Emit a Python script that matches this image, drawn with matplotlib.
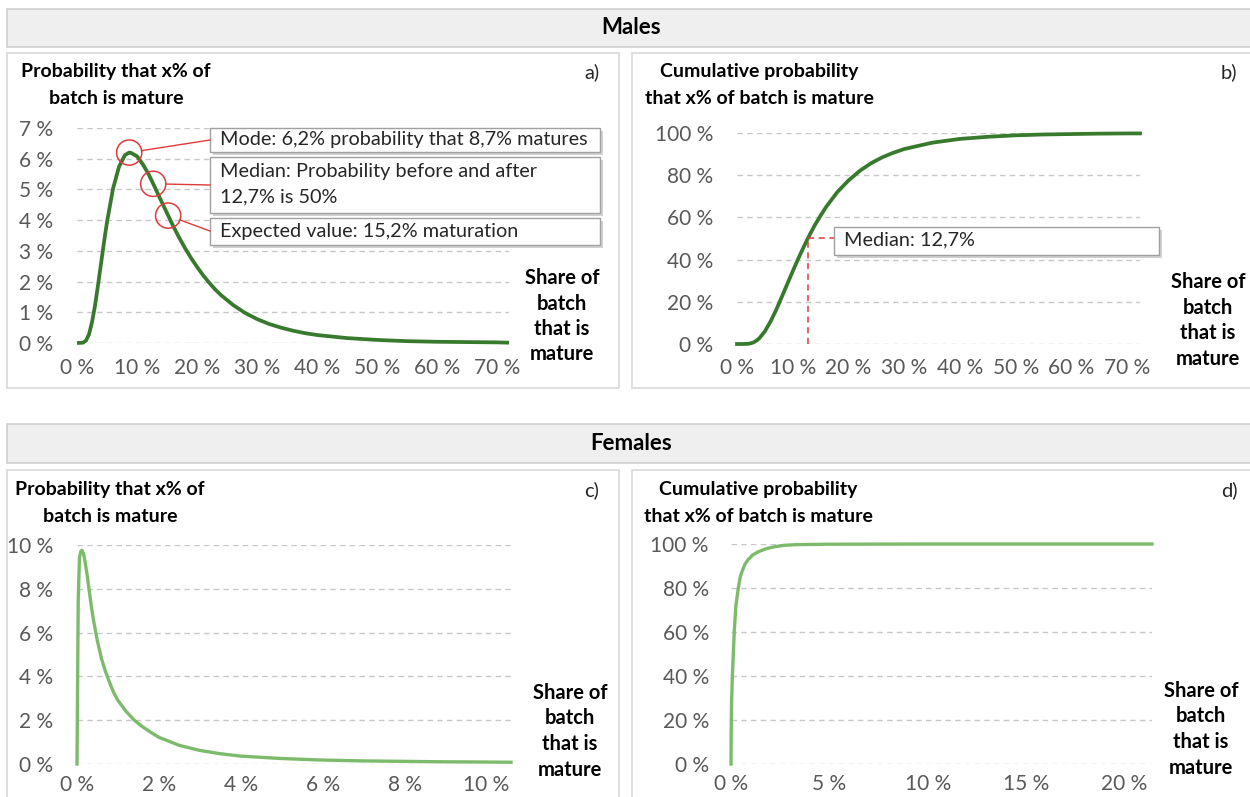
import numpy as np
import matplotlib.pyplot as plt
from matplotlib.patches import Rectangle
from matplotlib.lines import Line2D
from matplotlib.ticker import FuncFormatter

plt.rcParams['font.family'] = ['Lato', 'DejaVu Sans']

# share of batch that is mature (%), males
male_share = [0, 1, 1.5, 2, 2.5, 3, 3.5, 4, 4.5, 5, 6, 7, 8, 8.7, 9, 10, 11, 12, 13, 14, 15, 16, 17,
              18, 19, 20, 21, 22, 23, 24, 25, 26, 27, 28, 29, 30, 32, 34, 36, 38, 40, 45, 50, 55,
              60, 65, 70, 72]
male_prob = [0, 0.01, 0.08, 0.28, 0.68, 1.21, 1.88, 2.58, 3.28, 3.94, 5.02, 5.74, 6.12, 6.20, 6.19,
             6.08, 5.81, 5.47, 5.06, 4.64, 4.23, 3.82, 3.44, 3.09, 2.77, 2.48, 2.21, 1.97, 1.75,
             1.56, 1.40, 1.24, 1.11, 0.98, 0.88, 0.78, 0.62, 0.50, 0.40, 0.32, 0.26, 0.16, 0.10,
             0.06, 0.04, 0.03, 0.02, 0.01]
male_cum_share = [0, 1, 2, 2.5, 3, 3.5, 4, 5, 6, 7, 8, 9, 10, 11, 12, 12.7, 13, 14, 15, 16, 18, 20,
                  22, 24, 26, 28, 30, 35, 40, 45, 50, 55, 60, 65, 70, 72.3]
male_cum_prob = [0, 0.0, 0.1, 0.35, 0.8, 1.6, 2.7, 6.0, 10.6, 16.0, 22.1, 28.3, 34.5, 40.5, 46.2,
                 50.0, 51.6, 56.5, 60.9, 65.0, 72.0, 77.5, 82.0, 85.6, 88.4, 90.6, 92.4, 95.4, 97.2,
                 98.2, 98.9, 99.3, 99.5, 99.7, 99.8, 99.8]

# females
female_share = [0, 0.03, 0.06, 0.09, 0.12, 0.16, 0.2, 0.25, 0.3, 0.35, 0.4, 0.45, 0.5, 0.6, 0.7,
                0.8, 0.9, 1.0, 1.2, 1.4, 1.6, 1.8, 2.0, 2.5, 3.0, 3.5, 4.0, 5.0, 6.0, 7.0, 8.0,
                9.0, 10.0, 10.6]
female_prob = [0, 7.5, 9.4, 9.7, 9.76, 9.6, 9.2, 8.6, 7.9, 7.2, 6.6, 6.1, 5.6, 4.8, 4.2, 3.7, 3.25,
               2.9, 2.4, 2.0, 1.7, 1.45, 1.22, 0.85, 0.62, 0.47, 0.36, 0.25, 0.18, 0.14, 0.12,
               0.10, 0.09, 0.08]
female_cum_share = [0, 0.01, 0.03, 0.07, 0.17, 0.25, 0.37, 0.47, 0.58, 0.72, 0.88, 1.1, 1.39, 1.8,
                    2.24, 2.7, 3.27, 5.0, 10.0, 21.4]
female_cum_prob = [0, 15, 28, 40, 61, 72, 80, 85, 88, 91, 93, 95, 96.5, 97.9, 98.8, 99.4, 99.7,
                   99.9, 100, 100]

mode_share, mode_prob = 8.7, 6.2
median_share = 12.7
mean_share = 15.2

W, H = 1250, 797
MALE_GREEN = '#387a2d'
FEMALE_GREEN = '#7dbb6c'
RED = '#e03a3a'
TICK_GREY = '#595959'

fig = plt.figure(figsize=(W / 100, H / 100), dpi=100)


def fx(x):
    return x / W


def fy(y):
    return 1 - y / H


def rect(x0, y0, x1, y1, **kw):
    r = Rectangle((fx(x0), fy(y1)), (x1 - x0) / W, (y1 - y0) / H,
                  transform=fig.transFigure, **kw)
    fig.add_artist(r)
    return r


def text(x, y, s, **kw):
    fig.text(fx(x), fy(y), s, transform=fig.transFigure, va='center', **kw)


def add_axes(x0, y0, x1, y1):
    return fig.add_axes([fx(x0), fy(y1), (x1 - x0) / W, (y1 - y0) / H])


def pct(v, _):
    return f'{v:g} %'


def style(ax, xmax, xticks, ymax, yticks, xpad, ypad):
    ax.set_facecolor('none')
    for s in ax.spines.values():
        s.set_visible(False)
    ax.set_xlim(0, xmax)
    ax.set_ylim(0, ymax)
    ax.set_xticks(xticks)
    ax.set_yticks(yticks)
    ax.xaxis.set_major_formatter(FuncFormatter(pct))
    ax.yaxis.set_major_formatter(FuncFormatter(pct))
    ax.tick_params(length=0, labelsize=15, labelcolor=TICK_GREY)
    ax.tick_params(axis='x', pad=xpad)
    ax.tick_params(axis='y', pad=ypad)
    ax.yaxis.grid(True, ls=(0, (4, 3)), color='#c8c8c8', lw=1)
    ax.set_axisbelow(True)


def callout(x0, y0, x1, y1, lines, tx, ty):
    rect(x0 + 3, y0 + 3, x1 + 3, y1 + 3, facecolor='#9a9a9a', edgecolor='none', alpha=0.45, zorder=4)
    rect(x0, y0, x1, y1, facecolor='white', edgecolor='#a0a0a0', lw=1, zorder=5)
    for i, s in enumerate(lines):
        text(tx, ty + 26 * i, s, fontsize=14.3, color='#262626', ha='left', zorder=6)


def fig_line(p0, p1, **kw):
    fig.add_artist(Line2D([fx(p0[0]), fx(p1[0])], [fy(p0[1]), fy(p1[1])],
                          transform=fig.transFigure, **kw))


def data_to_px(ax, x, y):
    dx, dy = ax.transData.transform((x, y))
    return dx, H - dy


# section headers and panel frames
for top, bottom, label in [(9, 47, 'Males'), (424, 463, 'Females')]:
    rect(7, top, 1252, bottom, facecolor='#efefef', edgecolor='#cfcfcf', lw=1.2, zorder=-2)
    text(631, (top + bottom) / 2, label, fontsize=16, fontweight='bold', ha='center')
for x0, x1 in [(7, 619), (632, 1252)]:
    rect(x0, 53, x1, 388, facecolor='white', edgecolor='#d9d9d9', lw=1.2, zorder=-2)
    rect(x0, 470, x1, 805, facecolor='white', edgecolor='#d9d9d9', lw=1.2, zorder=-2)

# panel titles
titles = [
    (116, 72, 'Probability that x% of', 'batch is mature', 592, 'a)'),
    (759, 72, 'Cumulative probability', 'that x% of batch is mature', 1229, 'b)'),
    (110, 490, 'Probability that x% of', 'batch is mature', 592, 'c)'),
    (758, 490, 'Cumulative probability', 'that x% of batch is mature', 1229, 'd)'),
]
for cx, ty, l1, l2, lx, tag in titles:
    text(cx, ty, l1, fontsize=14, fontweight='bold', ha='center')
    text(cx, ty + 26, l2, fontsize=14, fontweight='bold', ha='center')
    text(lx, ty, tag, fontsize=14.5, ha='center', color='#262626')

for cx, ty in [(562, 278), (1208, 282), (570, 693), (1201, 691)]:
    for i, s in enumerate(['Share of', 'batch', 'that is', 'mature']):
        text(cx, ty + 25.5 * i, s, fontsize=14.5, fontweight='bold', ha='center')

# a) males, probability
ax_a = add_axes(77, 128, 509, 343)
style(ax_a, 72, range(0, 71, 10), 7, range(0, 8), 11, 17)
ax_a.plot(male_share, male_prob, color=MALE_GREEN, lw=2.7, clip_on=False, solid_capstyle='butt')
marks_x = [mode_share, median_share, mean_share]
marks_y = [mode_prob, np.interp(median_share, male_share, male_prob),
           np.interp(mean_share, male_share, male_prob)]
ax_a.scatter(marks_x, marks_y, s=330, facecolors='none', edgecolors=RED, lw=1.1,
             clip_on=False, zorder=5)

callout(210, 128, 600, 152, ['Mode: 6,2% probability that 8,7% matures'], 220, 140)
callout(210, 157, 600, 213, ['Median: Probability before and after', '12,7% is 50%'], 220, 171)
callout(210, 218, 600, 245, ['Expected value: 15,2% maturation'], 220, 231)

r = 12.5
for (mx, my), end in zip(zip(marks_x, marks_y), [(210, 140), (210, 185), (210, 231)]):
    cx, cy = data_to_px(ax_a, mx, my)
    ang = np.arctan2(end[1] - cy, end[0] - cx)
    start = (cx + r * np.cos(ang), cy + r * np.sin(ang))
    fig_line(start, end, color=RED, lw=1, zorder=6)

# b) males, cumulative
ax_b = add_axes(737, 133, 1140, 344)
style(ax_b, 72.3, range(0, 71, 10), 100, range(0, 101, 20), 10, 17)
ax_b.plot(male_cum_share, male_cum_prob, color=MALE_GREEN, lw=2.7, clip_on=False)
callout(834, 227, 1159, 255, ['Median: 12,7%'], 844, 240)
box_left = ax_b.transData.inverted().transform((834, H - 240))[0]
ax_b.plot([median_share, median_share], [0, 50], color=RED, lw=1.1, ls=(0, (4, 3)), zorder=5)
ax_b.plot([median_share, box_left], [50, 50], color=RED, lw=1.1, ls=(0, (4, 3)), zorder=5,
          clip_on=False)

# c) females, probability
ax_c = add_axes(77, 545, 511, 764)
style(ax_c, 10.6, range(0, 11, 2), 10, range(0, 11, 2), 8, 17)
ax_c.plot(female_share, female_prob, color=FEMALE_GREEN, lw=2.4, clip_on=False)

# d) females, cumulative
ax_d = add_axes(731, 544, 1152, 764)
style(ax_d, 21.4, range(0, 21, 5), 100, range(0, 101, 20), 7, 16)
ax_d.plot(female_cum_share, female_cum_prob, color=FEMALE_GREEN, lw=2.4, clip_on=False)

fig.savefig('out.png', dpi=100)
